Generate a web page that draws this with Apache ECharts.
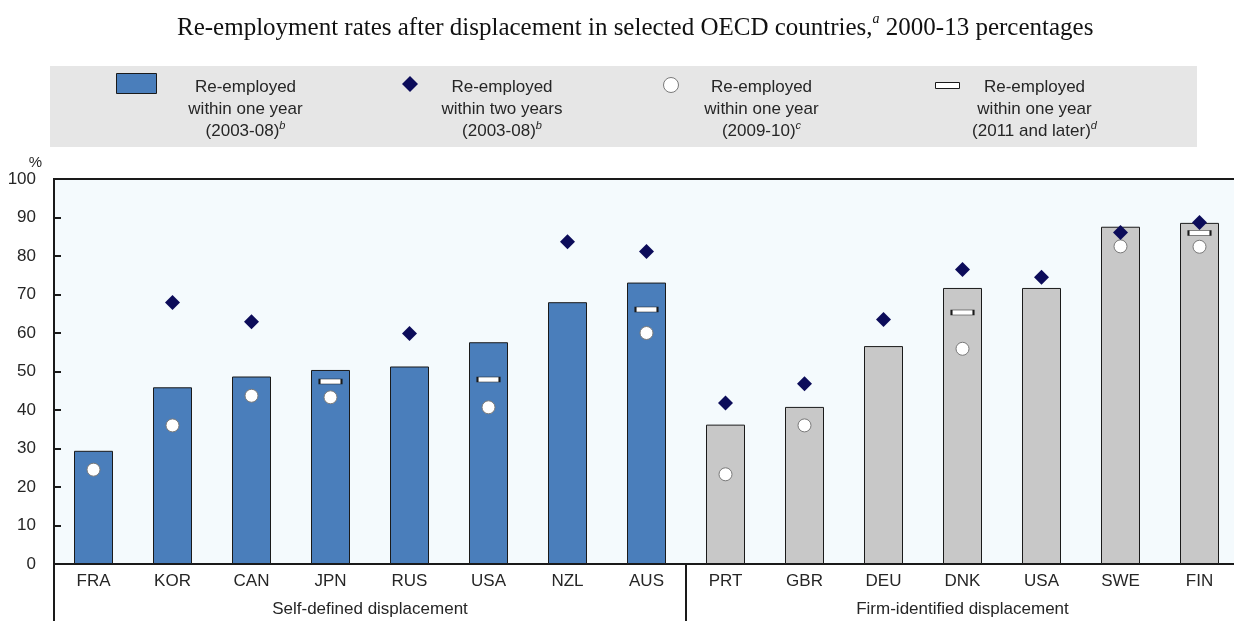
<!DOCTYPE html>
<html>
<head>
<meta charset="utf-8">
<title>Re-employment rates after displacement</title>
<script src="https://cdn.jsdelivr.net/npm/echarts@6/dist/echarts.min.js"></script>
<style>
  html, body { margin: 0; padding: 0; background: #fff; }
  #chart { width: 1234px; height: 621px; }
</style>
</head>
<body>
<div id="chart"></div>
<script>
// categories (USA appears once per group)
const countries = ['FRA', 'KOR', 'CAN', 'JPN', 'RUS', 'USA', 'NZL', 'AUS', 'PRT', 'GBR', 'DEU', 'DNK', 'USA', 'SWE', 'FIN']
const groupNames = ['Self-defined displacement', 'Firm-identified displacement']
const selfDefinedCount = 8

// values, % (null = not available)
const withinOneYear0308 = [29.4, 45.9, 48.7, 50.4, 51.3, 57.6, 68.0, 73.1, 36.2, 40.8, 56.6, 71.7, 71.7, 87.6, 88.6]
const withinTwoYears0308 = [null, 67.9, 62.9, null, 59.9, null, 83.7, 81.2, 41.8, 46.8, 63.5, 76.5, 74.5, 86.1, 88.7]
const withinOneYear0910 = [24.5, 36.0, 43.7, 43.3, null, 40.7, null, 60.0, 23.3, 36.0, null, 55.9, null, 82.5, 82.4]
const withinOneYear2011 = [null, null, null, 47.4, null, 47.9, null, 66.1, null, null, null, 65.3, null, null, 86.0]

// legend texts: [lines..., footnote letter]
const legendTexts = {
  s1: [['Re-employed', 'within one year', '(2003-08)'], 'b'],
  s2: [['Re-employed', 'within two years', '(2003-08)'], 'b'],
  s3: [['Re-employed', 'within one year', '(2009-10)'], 'c'],
  s4: [['Re-employed', 'within one year', '(2011 and later)'], 'd']
}

const SANS = "'Liberation Sans Narrow', 'Liberation Sans', Arial, sans-serif"
const SERIF = "'Liberation Serif', 'Times New Roman', serif"
const BLUE = '#4a7ebb'
const GREY = '#c8c8c8'
const NAVY = '#0c0c5a'
const INK = '#1a1a1a'
const TEXT = '#262626'

const chart = echarts.init(document.getElementById('chart'))

const toSeriesData = arr => arr.map(v => (v == null ? '-' : v))

// one legend block per series: icon level with the first line, three centred lines of text
const LINE_H = 22
const TEXT_W = 130
const MID_LINE_Y = 109
const makeLegend = (name, icon, iconLeft, iconTop, iw, ih, textCenterX, nudge = 0) => {
  const iconMidY = iconTop + ih / 2
  const padTop = 2 * (MID_LINE_Y - iconMidY)
  const textStart = iconLeft + iw + 5
  const padLeft = textCenterX - TEXT_W / 2 - textStart
  return {
    data: [{ name, icon }],
    left: iconLeft,
    top: iconTop + nudge,
    padding: 0,
    itemWidth: iw,
    itemHeight: ih,
    selectedMode: false,
    itemStyle: { borderWidth: 1 },
    formatter: n => {
      const [lines, note] = legendTexts[n]
      return lines.map((l, i) => '{c|' + l + '}' + (i === lines.length - 1 ? '{s|' + note + '}' : '')).join('\n')
    },
    textStyle: {
      width: TEXT_W,
      padding: [padTop, 0, 0, padLeft],
      rich: {
        c: { fontFamily: SANS, fontSize: 17, lineHeight: LINE_H, color: TEXT, align: 'center' },
        s: { fontFamily: SANS, fontSize: 11, lineHeight: 14, fontStyle: 'italic', color: TEXT, align: 'center', verticalAlign: 'top' }
      }
    }
  }
}

const option = {
  animation: false,
  backgroundColor: '#fff',
  title: {
    text: '{t|Re-employment rates after displacement in selected OECD countries,}{s|a}{t| 2000-13 percentages}',
    left: 177,
    top: 12,
    padding: 0,
    textStyle: {
      fontWeight: 'normal',
      rich: {
        t: { fontFamily: SERIF, fontSize: 25, fontWeight: 'normal', lineHeight: 32, color: '#111' },
        s: { fontFamily: SERIF, fontSize: 14, fontWeight: 'normal', lineHeight: 20, fontStyle: 'italic', color: '#111', verticalAlign: 'top' }
      }
    }
  },
  graphic: [{
    type: 'rect',
    z: -1,
    shape: { x: 50, y: 66, width: 1147, height: 81 },
    style: { fill: '#e6e6e6' }
  }],
  legend: [
    makeLegend('s1', 'rect', 116, 73, 40, 20, 245),
    makeLegend('s2', 'diamond', 402, 76, 16, 16, 502),
    makeLegend('s3', 'circle', 663, 77, 15, 15, 761),
    makeLegend('s4', 'rect', 935, 82, 24, 6, 1034, -3)
  ],
  grid: {
    left: 54,
    width: 1185,
    top: 179,
    bottom: 57,
    outerBoundsMode: 'none',
    show: true,
    backgroundColor: '#f4fafd',
    borderColor: INK,
    borderWidth: 2
  },
  xAxis: [{
    type: 'category',
    data: countries,
    axisLine: { lineStyle: { color: INK, width: 2 } },
    axisTick: { show: false },
    axisLabel: { color: TEXT, fontFamily: SANS, fontSize: 17, margin: 9, interval: 0 }
  }, {
    // grouping frame below the categories
    type: 'value',
    position: 'bottom',
    min: 0,
    max: countries.length,
    axisLine: { show: false },
    splitLine: { show: false },
    axisTick: {
      show: true,
      customValues: [0, selfDefinedCount, countries.length],
      length: 57,
      lineStyle: { color: INK, width: 2 }
    },
    axisLabel: {
      customValues: [selfDefinedCount / 2, (selfDefinedCount + countries.length) / 2],
      formatter: v => (v < selfDefinedCount ? groupNames[0] : groupNames[1]),
      color: TEXT,
      fontFamily: SANS,
      fontSize: 17,
      margin: 37
    }
  }],
  yAxis: {
    type: 'value',
    min: 0,
    max: 100,
    interval: 10,
    name: '%',
    nameLocation: 'end',
    nameGap: 8,
    nameTextStyle: { color: TEXT, fontFamily: SANS, fontSize: 15, align: 'right', padding: [0, 12, 0, 0] },
    axisLine: { show: true, lineStyle: { color: INK, width: 2 } },
    axisTick: { show: true, inside: true, length: 7, lineStyle: { color: INK, width: 2 } },
    axisLabel: { color: TEXT, fontFamily: SANS, fontSize: 17, margin: 18 },
    splitLine: { show: false }
  },
  series: [{
    name: 's1',
    type: 'bar',
    barWidth: 39,
    itemStyle: { color: BLUE, borderColor: INK, borderWidth: 1 },
    data: withinOneYear0308.map((v, i) => (i < selfDefinedCount ? v : { value: v, itemStyle: { color: GREY } }))
  }, {
    name: 's3',
    type: 'scatter',
    symbol: 'circle',
    symbolSize: 13,
    itemStyle: { color: '#fff', borderColor: '#7a7a7a', borderWidth: 1, opacity: 1 },
    z: 3,
    data: toSeriesData(withinOneYear0910)
  }, {
    name: 's4',
    type: 'scatter',
    symbol: 'rect',
    symbolSize: [22, 5],
    itemStyle: { color: '#fff', borderColor: INK, borderWidth: 1, opacity: 1 },
    z: 4,
    data: toSeriesData(withinOneYear2011)
  }, {
    name: 's2',
    type: 'scatter',
    symbol: 'diamond',
    symbolSize: 15,
    itemStyle: { color: NAVY, opacity: 1 },
    z: 5,
    data: toSeriesData(withinTwoYears0308)
  }]
}

chart.setOption(option)
</script>
</body>
</html>
